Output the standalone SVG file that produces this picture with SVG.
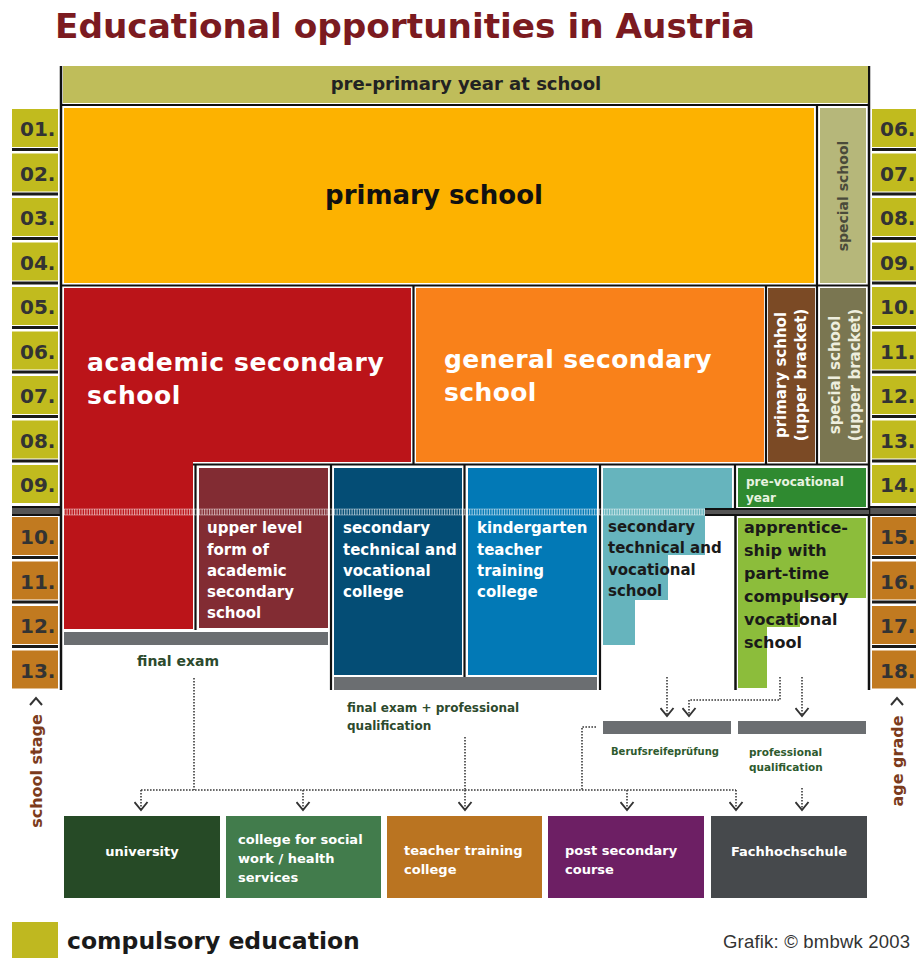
<svg xmlns="http://www.w3.org/2000/svg" width="916" height="958" viewBox="0 0 916 958">
<style>
.t{font-family:"DejaVu Sans",Verdana,sans-serif;font-weight:bold}
.w{fill:#fff}
.k{fill:#1a1a1a}
.lb{font-size:20px;fill:#333}
.sep{stroke:#111;stroke-width:2.2}
.lsep{stroke:#1a1a1a;stroke-width:3}
.dot{stroke:#3a3a3a;stroke-width:1.6;stroke-dasharray:1.6 1.4;fill:none}
.arr{marker-end:url(#ah)}
.gn{fill:#2d4a2d}
.box{font-size:15px}
.bot{font-size:13px;fill:#fff}
</style>
<defs>
<marker id="ah" markerUnits="userSpaceOnUse" markerWidth="16" markerHeight="11" refX="7.5" refY="9" orient="0">
<path d="M1,1 L7.5,9 L14,1" fill="none" stroke="#333" stroke-width="1.9"/>
</marker>
</defs>
<rect width="916" height="958" fill="#fff"/>
<text class="t" x="55" y="38" font-size="34.3" fill="#7b1a20" textLength="700">Educational opportunities in Austria</text>

<g id="labels-left">
<g fill="#c1bb1e">
<rect x="12" y="109" width="46" height="38"/><rect x="12" y="153.5" width="46" height="38"/><rect x="12" y="198" width="46" height="38"/><rect x="12" y="242.5" width="46" height="38"/><rect x="12" y="287" width="46" height="38"/><rect x="12" y="331.5" width="46" height="38"/><rect x="12" y="376" width="46" height="38"/><rect x="12" y="420.5" width="46" height="38"/><rect x="12" y="465" width="46" height="38"/>
</g>
<g fill="#c17a20">
<rect x="12" y="517" width="46" height="38"/><rect x="12" y="561.5" width="46" height="38"/><rect x="12" y="606" width="46" height="38"/><rect x="12" y="650.5" width="46" height="38"/>
</g>
<g class="lsep">
<line x1="12" y1="149.5" x2="58" y2="149.5"/><line x1="12" y1="194" x2="58" y2="194"/><line x1="12" y1="238.5" x2="58" y2="238.5"/><line x1="12" y1="283" x2="58" y2="283"/><line x1="12" y1="327.5" x2="58" y2="327.5"/><line x1="12" y1="372" x2="58" y2="372"/><line x1="12" y1="416.5" x2="58" y2="416.5"/><line x1="12" y1="461" x2="58" y2="461"/><line x1="12" y1="557.5" x2="58" y2="557.5"/><line x1="12" y1="602" x2="58" y2="602"/><line x1="12" y1="646.5" x2="58" y2="646.5"/>
</g>
<rect x="12" y="506" width="49" height="10" fill="#555"/>
<line x1="12" y1="507" x2="61" y2="507" stroke="#111" stroke-width="2"/>
<line x1="12" y1="515" x2="61" y2="515" stroke="#111" stroke-width="2"/>
<g class="t lb">
<text x="20" y="136">01.</text><text x="20" y="180.5">02.</text><text x="20" y="225">03.</text><text x="20" y="269.5">04.</text><text x="20" y="314">05.</text><text x="20" y="358.5">06.</text><text x="20" y="403">07.</text><text x="20" y="447.5">08.</text><text x="20" y="492">09.</text><text x="20" y="544">10.</text><text x="20" y="588.5">11.</text><text x="20" y="633">12.</text><text x="20" y="677.5">13.</text>
</g>
<polyline points="30,705 36,698 42,705" fill="none" stroke="#333" stroke-width="2"/>
<text class="t" font-size="16" fill="#7b3b1c" transform="translate(42,771) rotate(-90)" text-anchor="middle">school stage</text>
</g>

<g id="labels-right">
<g fill="#c1bb1e">
<rect x="872" y="109" width="44" height="38"/><rect x="872" y="153.5" width="44" height="38"/><rect x="872" y="198" width="44" height="38"/><rect x="872" y="242.5" width="44" height="38"/><rect x="872" y="287" width="44" height="38"/><rect x="872" y="331.5" width="44" height="38"/><rect x="872" y="376" width="44" height="38"/><rect x="872" y="420.5" width="44" height="38"/><rect x="872" y="465" width="44" height="38"/>
</g>
<g fill="#c17a20">
<rect x="872" y="517" width="44" height="38"/><rect x="872" y="561.5" width="44" height="38"/><rect x="872" y="606" width="44" height="38"/><rect x="872" y="650.5" width="44" height="38"/>
</g>
<g class="lsep">
<line x1="872" y1="149.5" x2="916" y2="149.5"/><line x1="872" y1="194" x2="916" y2="194"/><line x1="872" y1="238.5" x2="916" y2="238.5"/><line x1="872" y1="283" x2="916" y2="283"/><line x1="872" y1="327.5" x2="916" y2="327.5"/><line x1="872" y1="372" x2="916" y2="372"/><line x1="872" y1="416.5" x2="916" y2="416.5"/><line x1="872" y1="461" x2="916" y2="461"/><line x1="872" y1="557.5" x2="916" y2="557.5"/><line x1="872" y1="602" x2="916" y2="602"/><line x1="872" y1="646.5" x2="916" y2="646.5"/>
</g>
<rect x="869" y="506" width="47" height="10" fill="#555"/>
<line x1="869" y1="507" x2="916" y2="507" stroke="#111" stroke-width="2"/>
<line x1="869" y1="515" x2="916" y2="515" stroke="#111" stroke-width="2"/>
<g class="t lb">
<text x="880" y="136">06.</text><text x="880" y="180.5">07.</text><text x="880" y="225">08.</text><text x="880" y="269.5">09.</text><text x="880" y="314">10.</text><text x="880" y="358.5">11.</text><text x="880" y="403">12.</text><text x="880" y="447.5">13.</text><text x="880" y="492">14.</text><text x="880" y="544">15.</text><text x="880" y="588.5">16.</text><text x="880" y="633">17.</text><text x="880" y="677.5">18.</text>
</g>
<polyline points="891,705 897,698 903,705" fill="none" stroke="#333" stroke-width="2"/>
<text class="t" font-size="16" fill="#7b3b1c" transform="translate(903,761) rotate(-90)" text-anchor="middle">age grade</text>
</g>

<g id="frame" class="sep">
<line x1="61" y1="66" x2="61" y2="690" stroke-width="2.5"/>
<line x1="869" y1="66" x2="869" y2="690" stroke-width="2.5"/>
<line x1="61" y1="105" x2="869" y2="105"/>
<line x1="817" y1="105" x2="817" y2="464"/>
<line x1="61" y1="285.5" x2="869" y2="285.5"/>
<line x1="413.5" y1="285" x2="413.5" y2="464"/>
<line x1="766" y1="285" x2="766" y2="464"/>
<line x1="193" y1="464.5" x2="869" y2="464.5"/>
<line x1="195.5" y1="464" x2="195.5" y2="630"/>
<line x1="331" y1="464" x2="331" y2="690"/>
<line x1="464.5" y1="464" x2="464.5" y2="677"/>
<line x1="600" y1="464" x2="600" y2="690"/>
<line x1="735" y1="464" x2="735" y2="508"/>
<line x1="735.5" y1="516" x2="735.5" y2="690" stroke-width="2.5"/>
</g>

<g id="pre-primary">
<rect x="63" y="66" width="805" height="37" fill="#bfbd5a"/>
<text class="t" x="466" y="90" font-size="18" fill="#222" text-anchor="middle">pre-primary year at school</text>
</g>
<g id="primary-school">
<rect x="64" y="108" width="750" height="175" fill="#fdb200"/>
<text class="t" x="434" y="204" font-size="26" fill="#111" text-anchor="middle">primary school</text>
</g>
<g id="special-school">
<rect x="820" y="108" width="46" height="175" fill="#b6b77a"/>
<text class="t" font-size="14" fill="#4a4a3a" transform="translate(848,196) rotate(-90)" text-anchor="middle">special school</text>
</g>
<g id="academic-secondary">
<path d="M64,288 H411 V462 H193 V629 H64 Z" fill="#bb1419"/>
<text class="t w" x="87" y="371" font-size="25" letter-spacing="0.6">academic secondary</text>
<text class="t w" x="87" y="404" font-size="25" letter-spacing="0.6">school</text>
</g>
<g id="general-secondary">
<rect x="416" y="288" width="348" height="174" fill="#f9811a"/>
<text class="t w" x="444" y="368" font-size="25" letter-spacing="0.4">general secondary</text>
<text class="t w" x="444" y="401" font-size="25" letter-spacing="0.4">school</text>
</g>
<g id="primary-upper">
<rect x="768" y="288" width="47" height="174" fill="#7b4a25"/>
<text class="t w" font-size="15" transform="translate(786,375) rotate(-90)" text-anchor="middle">primary schhol</text>
<text class="t w" font-size="15" transform="translate(806,375) rotate(-90)" text-anchor="middle">(upper bracket)</text>
</g>
<g id="special-upper">
<rect x="820" y="288" width="46" height="174" fill="#7a7651"/>
<text class="t" fill="#eeeede" font-size="15" transform="translate(840,375) rotate(-90)" text-anchor="middle">special school</text>
<text class="t" fill="#eeeede" font-size="15" transform="translate(860,375) rotate(-90)" text-anchor="middle">(upper bracket)</text>
</g>
<g id="upper-level-form">
<rect x="199" y="468" width="129" height="160" fill="#822c33"/>
<g class="t w box"><text x="207" y="533">upper level</text><text x="207" y="555">form of</text><text x="207" y="576">academic</text><text x="207" y="597">secondary</text><text x="207" y="618">school</text></g>
</g>
<g id="final-exam">
<rect x="64" y="632" width="264" height="13" fill="#6b6e71"/>
<text class="t gn" x="137" y="666" font-size="14">final exam</text>
</g>
<g id="technical-college">
<rect x="334" y="468" width="128" height="207" fill="#044d75"/>
<g class="t w box"><text x="343" y="533">secondary</text><text x="343" y="555">technical and</text><text x="343" y="576">vocational</text><text x="343" y="597">college</text></g>
</g>
<g id="kindergarten-college">
<rect x="468" y="468" width="129" height="207" fill="#0279b6"/>
<g class="t w box"><text x="477" y="533">kindergarten</text><text x="477" y="555">teacher</text><text x="477" y="576">training</text><text x="477" y="597">college</text></g>
</g>
<g id="final-exam-professional">
<rect x="334" y="677" width="263" height="13" fill="#6b6e71"/>
<text class="t gn" font-size="12"><tspan x="347" y="712">final exam + professional</tspan><tspan x="347" y="730">qualification</tspan></text>
</g>
<g id="technical-school">
<path d="M603,468 H732 V508 H705 V555 H668 V600 H635 V645 H603 Z" fill="#66b4bd"/>
<g class="t k box"><text x="608" y="532">secondary</text><text x="608" y="553">technical and</text><text x="608" y="575">vocational</text><text x="608" y="596">school</text></g>
</g>
<g id="pre-vocational">
<rect x="738" y="468" width="128" height="39" fill="#2f8a30"/>
<text class="t" fill="#e8f3e0" font-size="12"><tspan x="746" y="486">pre-vocational</tspan><tspan x="746" y="502">year</tspan></text>
</g>
<g id="band">
<rect x="705" y="508" width="164" height="8" fill="#555"/>
<line x1="705" y1="509" x2="869" y2="509" stroke="#111" stroke-width="2"/>
<line x1="705" y1="515" x2="869" y2="515" stroke="#111" stroke-width="2"/>
<line x1="64" y1="512" x2="705" y2="512" stroke="#fff" stroke-width="6" stroke-dasharray="1.2 1.3" opacity="0.55"/>
<line x1="64" y1="509" x2="705" y2="509" stroke="#fff" stroke-width="0.8" opacity="0.5"/>
<line x1="64" y1="515" x2="705" y2="515" stroke="#fff" stroke-width="0.8" opacity="0.5"/>
</g>
<g id="apprenticeship">
<path d="M738,518 H866 V598 H800 V627 H767 V688 H738 Z" fill="#8cbd3b"/>
<g class="t k" font-size="16"><text x="744" y="533">apprentice-</text><text x="744" y="556">ship with</text><text x="744" y="579">part-time</text><text x="744" y="602">compulsory</text><text x="744" y="625">vocational</text><text x="744" y="648">school</text></g>
</g>
<g id="berufsreifepruefung">
<rect x="603" y="721" width="128" height="13" fill="#6b6e71"/>
<text class="t" fill="#2e5a2e" x="611" y="755" font-size="10">Berufsreifeprüfung</text>
</g>
<g id="professional-qualification">
<rect x="738" y="721" width="128" height="13" fill="#6b6e71"/>
<text class="t" fill="#2e5a2e" font-size="10.5"><tspan x="749" y="756">professional</tspan><tspan x="749" y="771">qualification</tspan></text>
</g>

<g id="connectors" class="dot">
<path d="M194,678 V790"/>
<path d="M141,790 H736"/>
<path d="M465,737 V790"/>
<path d="M596,727 H582 V790"/>
<path d="M780,677 V700 H689"/>
<path class="arr" d="M141,790 V810"/>
<path class="arr" d="M303,790 V810"/>
<path class="arr" d="M465,790 V810"/>
<path class="arr" d="M627,790 V810"/>
<path class="arr" d="M736,790 V810"/>
<path class="arr" d="M802,788 V810"/>
<path class="arr" d="M667,677 V716"/>
<path class="arr" d="M689,700 V716"/>
<path class="arr" d="M802,677 V716"/>
</g>

<g id="university">
<rect x="64" y="816" width="156" height="82" fill="#264a26"/>
<text class="t bot" x="142" y="856" text-anchor="middle">university</text>
</g>
<g id="social-college">
<rect x="226" y="816" width="155" height="82" fill="#427c4c"/>
<text class="t bot"><tspan x="238" y="844">college for social</tspan><tspan x="238" y="863">work / health</tspan><tspan x="238" y="882">services</tspan></text>
</g>
<g id="teacher-college">
<rect x="387" y="816" width="155" height="82" fill="#ba7421"/>
<text class="t bot"><tspan x="404" y="855">teacher training</tspan><tspan x="404" y="874">college</tspan></text>
</g>
<g id="post-secondary">
<rect x="548" y="816" width="156" height="82" fill="#6d1f64"/>
<text class="t bot"><tspan x="565" y="855">post secondary</tspan><tspan x="565" y="874">course</tspan></text>
</g>
<g id="fachhochschule">
<rect x="711" y="816" width="156" height="82" fill="#46494c"/>
<text class="t bot" x="789" y="856" text-anchor="middle">Fachhochschule</text>
</g>

<g id="legend">
<rect x="12" y="922" width="46" height="36" fill="#bfb820"/>
<text class="t" x="67" y="949" font-size="23.5" fill="#1a1a1a">compulsory education</text>
<text x="723" y="948" font-family="Liberation Sans, Arial, sans-serif" font-size="18.5" fill="#333" textLength="187">Grafik: © bmbwk 2003</text>
</g>
</svg>
